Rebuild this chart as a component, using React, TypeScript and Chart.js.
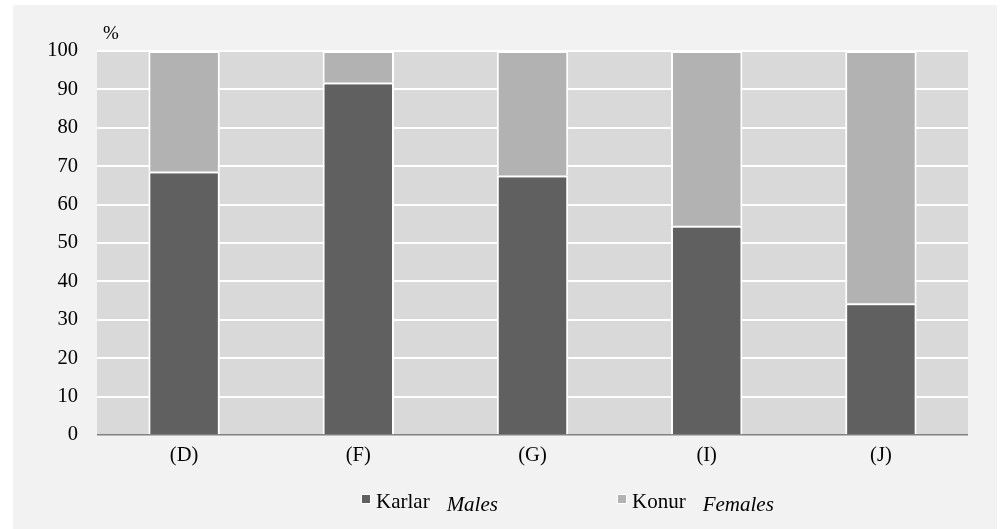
import React, { useEffect, useRef } from "react";
import { Chart, registerables } from "chart.js";

Chart.register(...registerables);

const categories = ["(D)", "(F)", "(G)", "(I)", "(J)"];
const malesValues = [68.6, 91.8, 67.6, 54.5, 34.3];
const femalesValues = [31.4, 8.2, 32.4, 45.5, 65.7];
const yTicks = [0, 10, 20, 30, 40, 50, 60, 70, 80, 90, 100];
const legendItems = [
  { tr: "Karlar", en: "Males", color: "#606060" },
  { tr: "Konur", en: "Females", color: "#b2b2b2" },
];

const FONT = "'Liberation Serif', 'Times New Roman', serif";

const bgPlugin = {
  id: "bgPlugin",
  beforeDraw(chart: any) {
    const { ctx, chartArea, width, height } = chart;
    ctx.save();
    ctx.fillStyle = "#ffffff";
    ctx.fillRect(0, 0, width, height);
    ctx.fillStyle = "#f2f2f2";
    ctx.fillRect(13, 5, 984, 524);
    ctx.fillStyle = "#d9d9d9";
    ctx.fillRect(chartArea.left, chartArea.top, chartArea.right - chartArea.left, chartArea.bottom - chartArea.top);
    ctx.restore();
  },
  afterDraw(chart: any) {
    const { ctx } = chart;
    ctx.save();
    ctx.fillStyle = "#000";
    ctx.textBaseline = "alphabetic";
    ctx.font = `19px ${FONT}`;
    ctx.fillText("%", 103, 39);
    // legend
    const positions = [362, 618];
    legendItems.forEach((it, i) => {
      const x = positions[i];
      ctx.fillStyle = "#ffffff";
      ctx.fillRect(x - 1, 494, 10, 10);
      ctx.fillStyle = it.color;
      ctx.fillRect(x, 495, 8, 8);
      ctx.fillStyle = "#000";
      ctx.font = `21px ${FONT}`;
      ctx.fillText(it.tr, x + 14, 508);
      const w = ctx.measureText(it.tr).width;
      ctx.font = `italic 21px ${FONT}`;
      ctx.fillText(it.en, x + 14 + w + 17, 511);
    });
    ctx.restore();
  },
};

export default function App() {
  const ref = useRef<HTMLCanvasElement>(null);
  useEffect(() => {
    document.body.style.margin = "0";
    const chart = new Chart(ref.current!, {
      type: "bar",
      data: {
        labels: categories,
        datasets: [
          {
            label: "Karlar Males",
            data: malesValues,
            backgroundColor: "#606060",
            borderColor: "#ffffff",
            borderWidth: 2,
            barPercentage: 0.41,
            categoryPercentage: 1,
          },
          {
            label: "Konur Females",
            data: femalesValues,
            backgroundColor: "#b2b2b2",
            borderColor: "#ffffff",
            borderWidth: 2,
            barPercentage: 0.41,
            categoryPercentage: 1,
          },
        ],
      },
      options: {
        responsive: false,
        animation: false,
        layout: { padding: { left: 0, right: 34, top: 51, bottom: 0 } },
        plugins: { legend: { display: false }, tooltip: { enabled: false } },
        scales: {
          x: {
            stacked: true,
            grid: { display: false },
            border: { display: false },
            ticks: { color: "#000", font: { family: FONT, size: 20.5 }, padding: 0 },
            afterFit: (s: any) => {
              s.height = 94;
            },
          },
          y: {
            stacked: true,
            min: 0,
            max: 100,
            afterBuildTicks: (s: any) => {
              s.ticks = yTicks.map((v) => ({ value: v }));
            },
            grid: {
              drawTicks: false,
              color: (c: any) => (c.tick && c.tick.value === 0 ? "#808080" : "#ffffff"),
              lineWidth: (c: any) => (c.tick && c.tick.value === 0 ? 1.5 : 2),
            },
            border: { display: false },
            ticks: { color: "#000", font: { family: FONT, size: 20.5 }, padding: 19 },
            afterFit: (s: any) => {
              s.width = 97;
            },
          },
        },
      },
      plugins: [bgPlugin],
    });
    return () => chart.destroy();
  }, []);
  return (
    <div style={{ width: 1002, height: 529 }}>
      <canvas ref={ref} width={1002} height={529} />
    </div>
  );
}
